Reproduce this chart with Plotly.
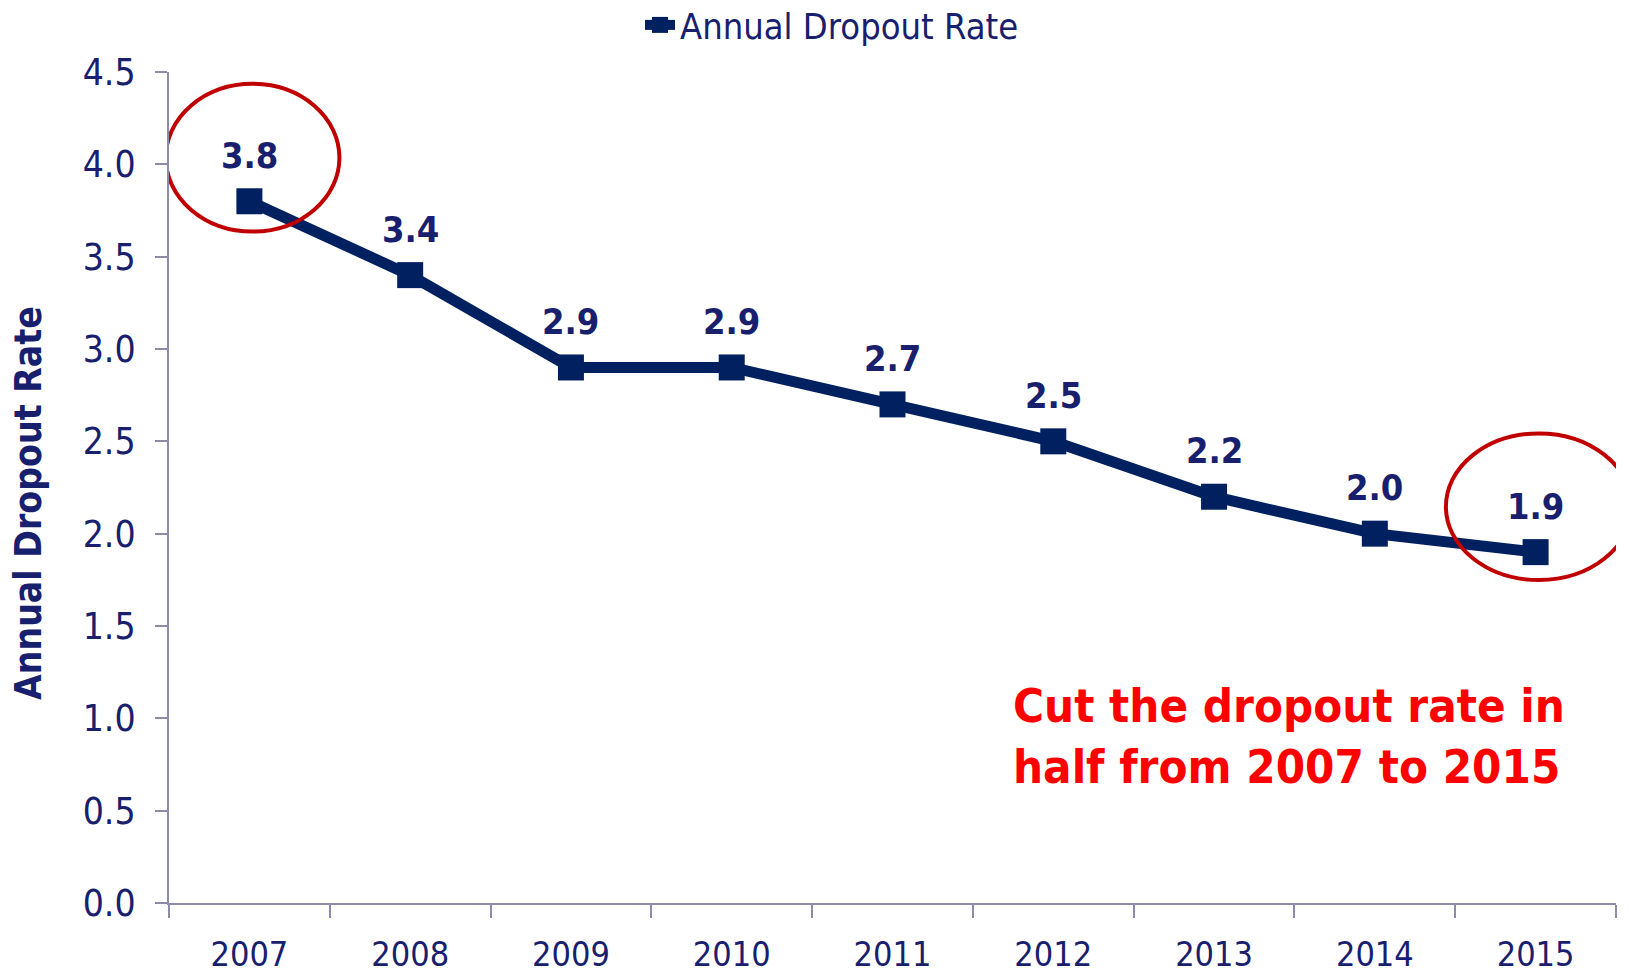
import plotly.graph_objects as go

years = ["2007", "2008", "2009", "2010", "2011", "2012", "2013", "2014", "2015"]
rates = [3.8, 3.4, 2.9, 2.9, 2.7, 2.5, 2.2, 2.0, 1.9]
label_text = [f"{v:.1f}" for v in rates]
y_ticks = [0.0, 0.5, 1.0, 1.5, 2.0, 2.5, 3.0, 3.5, 4.0, 4.5]
series_name = "Annual Dropout Rate"
y_title = "Annual Dropout Rate"
callout = "Cut the dropout rate in<br>half from 2007 to 2015"

FONT = "DejaVu Sans Condensed, DejaVu Sans, Verdana, sans-serif"
TXT = "#18206E"
LINE = "#002060"
AXIS = "#8C8CA8"
RED = "#C00000"

W, H = 1631, 977
M_L, M_R, M_T, M_B = 169, 15, 10, 74
PLOT_TOP = 72
paper_h = H - M_T - M_B
paper_w = W - M_L - M_R
y_dom_top = (H - M_B - PLOT_TOP) / paper_h

fig = go.Figure()
fig.add_trace(go.Scatter(
    x=years, y=rates, name=series_name, mode="lines+markers",
    line=dict(color=LINE, width=11),
    marker=dict(symbol="square", size=26, color=LINE),
    cliponaxis=False,
))

for i, (v, t) in enumerate(zip(rates, label_text)):
    fig.add_annotation(x=i, y=v, xref="x", yref="y", text=f"<b>{t}</b>", showarrow=False,
                       yshift=46, font=dict(family=FONT, size=36, color=TXT))

# highlight ellipses around first and last points
i0, i1 = 0, len(years) - 1
fig.add_shape(type="circle", xref="x", yref="y",
              x0=i0 + 0.02 - 0.54, x1=i0 + 0.02 + 0.54,
              y0=rates[i0] + 0.236 - 0.40, y1=rates[i0] + 0.236 + 0.40,
              line=dict(color=RED, width=4))
fig.add_shape(type="circle", xref="x", yref="y",
              x0=i1 + 0.02 - 0.578, x1=i1 + 0.02 + 0.578,
              y0=rates[i1] + 0.246 - 0.397, y1=rates[i1] + 0.246 + 0.397,
              line=dict(color=RED, width=4))

# y-axis title
fig.add_annotation(xref="paper", yref="paper", x=(28 - M_L) / paper_w,
                   y=(H - M_B - 503) / paper_h, xanchor="center", yanchor="middle",
                   textangle=-90, showarrow=False, text=f"<b>{y_title}</b>",
                   font=dict(family=FONT, size=37, color=TXT))

fig.add_annotation(xref="paper", yref="paper", x=(1011 - M_L) / paper_w,
                   y=(H - M_B - 736) / paper_h,
                   xanchor="left", yanchor="middle", align="left", showarrow=False,
                   text=f"<b>{callout}</b>",
                   font=dict(family=FONT, size=47, color="#FF0000"))

fig.update_layout(
    width=W, height=H,
    margin=dict(l=M_L, r=M_R, t=M_T, b=M_B, autoexpand=False),
    paper_bgcolor="white", plot_bgcolor="white",
    font=dict(family=FONT, color=TXT),
    showlegend=True,
    legend=dict(orientation="h", x=(640 - M_L) / paper_w, xanchor="left",
                y=(H - M_B - 25) / paper_h, yanchor="middle",
                font=dict(family=FONT, size=36, color=TXT),
                bgcolor="rgba(0,0,0,0)"),
    xaxis=dict(type="category", range=[-0.5, len(years) - 0.5], automargin=False,
               showline=True, linecolor=AXIS, linewidth=2,
               ticks="outside", tickson="boundaries", ticklen=13, tickwidth=2, tickcolor=AXIS,
               tickfont=dict(family=FONT, size=34, color=TXT), ticklabelstandoff=20,
               showgrid=False, zeroline=False),
    yaxis=dict(range=[0, 4.5], domain=[0, y_dom_top], automargin=False,
               tickvals=y_ticks, ticktext=[f"{v:.1f}" for v in y_ticks],
               showline=True, linecolor=AXIS, linewidth=2,
               ticks="outside", ticklen=12, tickwidth=2, tickcolor=AXIS,
               tickfont=dict(family=FONT, size=37, color=TXT), ticklabelstandoff=12,
               showgrid=False, zeroline=False),
)

fig.write_html("out.html")
